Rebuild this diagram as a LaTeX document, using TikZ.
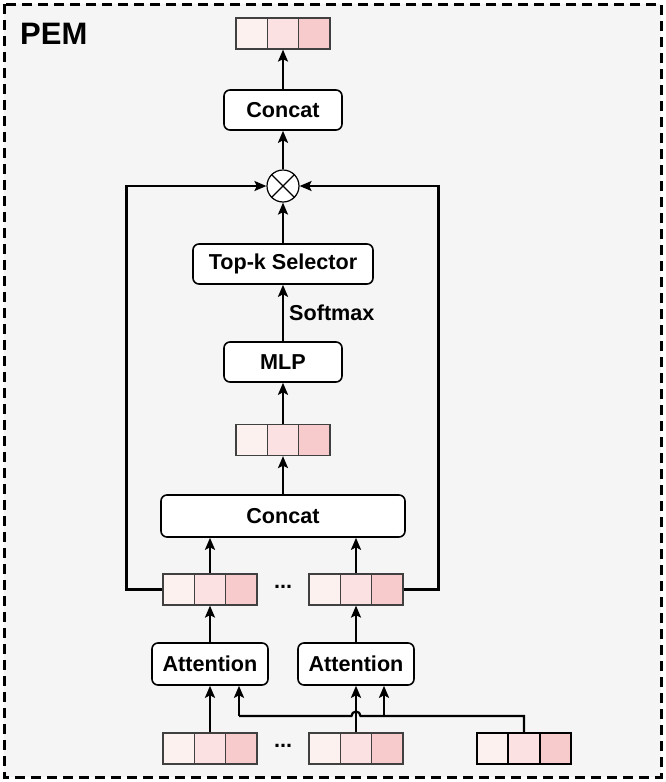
\documentclass[tikz,border=0pt]{standalone}
\usepackage{fontspec}
\setmainfont{Liberation Sans}
\usetikzlibrary{arrows.meta}
\definecolor{bgc}{HTML}{F5F5F5}
\definecolor{cA}{HTML}{FCF1EF}
\definecolor{cB}{HTML}{FBE1E1}
\definecolor{cC}{HTML}{F7CACB}
\newcommand{\vecrow}[4][cell]{%
  \node[#1, fill=cA] (#2a) at ({#3-31.3},#4) {};
  \node[#1, fill=cB] (#2b) at (#3,#4) {};
  \node[#1, fill=cC] (#2c) at ({#3+31.3},#4) {};
}
\begin{document}
\begin{tikzpicture}[x=1pt,y=-1pt,
  txt/.style={font=\bfseries\fontsize{21.6}{25}\selectfont},
  cell/.style={draw=black!75, line width=1.2pt, minimum width=31.3pt, minimum height=31pt, inner sep=0pt},
  qcell/.style={draw=black, line width=2.2pt, minimum width=31.3pt, minimum height=31pt, inner sep=0pt},
  blk/.style={txt, draw=black, line width=1.6pt, fill=white, rounded corners=6pt, inner sep=0pt, minimum height=40pt},
  conn/.style={draw=black, line width=2.2pt},
  arr/.style={conn, -{Stealth[length=12pt,width=10pt,inset=2.5pt]}}
]
\useasboundingbox (0,0) rectangle (666,782);
\draw[fill=bgc, line width=3pt, dash pattern=on 10pt off 6pt] (4,4) rectangle (661,777);
\node[txt, font=\bfseries\fontsize{31}{36}\selectfont, anchor=base west, inner sep=0pt] (pem) at (20,44) {PEM};

% vectors
\vecrow{T}{283}{33.5}
\vecrow{M}{283}{440}
\vecrow{La}{210}{589.5}
\vecrow{Ra}{356}{589.5}
\vecrow{Lb}{210}{748.5}
\vecrow{Rb}{356}{748.5}
\vecrow[qcell]{Q}{524}{748.5}

% blocks
\node[blk, minimum width=118pt] (cat1) at (283,110) {Concat};
\node[circle, draw=black, line width=1.2pt, fill=white, minimum size=32pt, inner sep=0pt] (mul) at (283,186) {};
\draw[line width=1.2pt] (mul.north west) -- (mul.south east) (mul.north east) -- (mul.south west);
\node[blk, minimum width=180pt] (topk) at (283,264) {Top-k Selector};
\node[blk, minimum width=118pt] (mlp) at (283,362) {MLP};
\node[blk, minimum width=244pt, minimum height=42pt] (cat2) at (283,516) {Concat};
\node[blk, minimum width=116pt, minimum height=42pt] (att1) at (210,664) {Attention};
\node[blk, minimum width=116pt, minimum height=42pt] (att2) at (356,664) {Attention};

\node[txt] (dots1) at (283,587) {...};
\node[txt] (dots2) at (283,746) {...};
\node[txt, anchor=west, inner sep=0pt] (smax) at (289,313) {Softmax};

% connectors
\draw[arr] (Lbb.north) -- (att1.south);
\draw[arr] (Rbb.north) -- (att2.south);
\coordinate (q0) at (524,716);
\coordinate (q1) at (239,716);
\coordinate (q2) at (384,716);
\draw[conn] (Qb.north) -- (q0) -- (360.5,716) arc[start angle=0, end angle=-180, radius=4.5] -- (q1);
\draw[arr] (q1) -- (q1 |- att1.south);
\draw[arr] (q2) -- (q2 |- att2.south);
\draw[arr] (att1.north) -- (Lab.south);
\draw[arr] (att2.north) -- (Rab.south);
\draw[arr] (Lab.north) -- (Lab.north |- cat2.south);
\draw[arr] (Rab.north) -- (Rab.north |- cat2.south);
\draw[arr] (cat2.north) -- (Mb.south);
\draw[arr] (Mb.north) -- (mlp.south);
\draw[arr] (mlp.north) -- (topk.south);
\draw[arr] (topk.north) -- (mul.south);
\draw[arr] (Laa.west) -- ++(-36,0) |- (mul.west);
\draw[arr] (Rac.east) -- ++(35,0) |- (mul.east);
\draw[arr] (mul.north) -- (cat1.south);
\draw[arr] (cat1.north) -- (Tb.south);
\end{tikzpicture}
\end{document}
